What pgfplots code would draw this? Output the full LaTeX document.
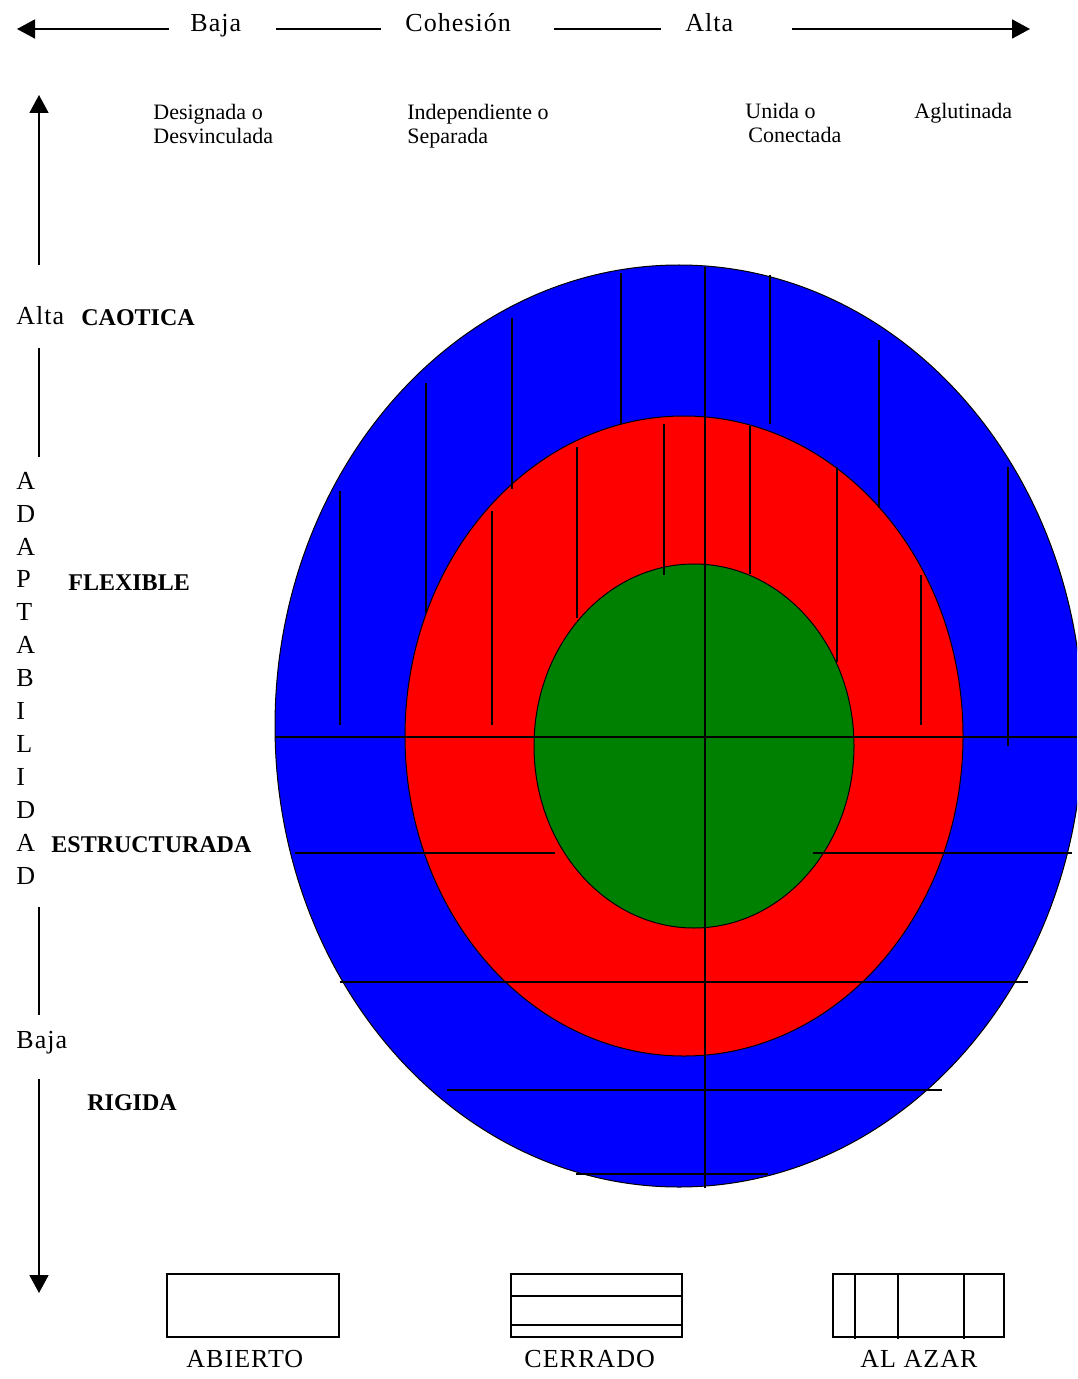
\documentclass[border=0pt]{standalone}
\usepackage{pgfplots}
\pgfplotsset{compat=1.18}
\usepackage{fontspec}
\setmainfont{Liberation Serif}
\newfontfamily\spaced[LetterSpace=4.0]{Liberation Serif}
\usetikzlibrary{arrows.meta}

\definecolor{cblue}{RGB}{0,0,255}
\definecolor{cred}{RGB}{255,0,0}
\definecolor{cgreen}{RGB}{0,128,0}

\tikzset{
  ln/.style={black, line width=0.6pt},
  arr/.style={black, line width=0.9pt, -{Triangle[length=9pt,width=9.5pt]}},
  bx/.style={black, line width=0.9pt},
  lbl/.style={anchor=base west, inner sep=0pt, font=\spaced\fontsize{13}{15}\selectfont},
  sm/.style={anchor=base west, inner sep=0pt, font=\fontsize{11}{13}\selectfont},
  bd/.style={anchor=base west, inner sep=0pt, font=\bfseries\fontsize{12}{14}\selectfont},
}

\begin{document}
\begin{tikzpicture}
\begin{axis}[
  scale only axis,
  width=538.5pt, height=689.5pt,
  xmin=0, xmax=1077, ymin=0, ymax=1379,
  y dir=reverse,
  hide axis,
]
\path (rel axis cs:0,0) rectangle (rel axis cs:1,1);

% rings (outer one runs past the right edge and is clipped there)
\pgfinterruptboundingbox
\draw[fill=cblue, draw=black, line width=0.5pt] (axis cs:679,726) ellipse [x radius=404, y radius=461];
\endpgfinterruptboundingbox
\draw[fill=cred, draw=black, line width=0.5pt] (axis cs:684,736) ellipse [x radius=279, y radius=320];
\draw[fill=cgreen, draw=black, line width=0.5pt] (axis cs:694,746) ellipse [x radius=160, y radius=182];

% grid lines inside the rings
\addplot[ln, no marks] coordinates {(705,267) (705,1188)};
\addplot[ln, no marks] coordinates {(275,737) (1077,737)};
\addplot[ln, no marks] coordinates {(340,491) (340,725)};
\addplot[ln, no marks] coordinates {(426,383) (426,613)};
\addplot[ln, no marks] coordinates {(512,318) (512,489)};
\addplot[ln, no marks] coordinates {(621,273) (621,424)};
\addplot[ln, no marks] coordinates {(770,275) (770,424)};
\addplot[ln, no marks] coordinates {(879,340) (879,508)};
\addplot[ln, no marks] coordinates {(1008,467) (1008,746)};
\addplot[ln, no marks] coordinates {(492,511) (492,725)};
\addplot[ln, no marks] coordinates {(577,447) (577,618)};
\addplot[ln, no marks] coordinates {(664,424) (664,575)};
\addplot[ln, no marks] coordinates {(750,426) (750,574)};
\addplot[ln, no marks] coordinates {(837,467) (837,662)};
\addplot[ln, no marks] coordinates {(921,575) (921,725)};
\addplot[ln, no marks] coordinates {(295,853) (555,853)};
\addplot[ln, no marks] coordinates {(813,853) (1072,853)};
\addplot[ln, no marks] coordinates {(340,982) (1028,982)};
\addplot[ln, no marks] coordinates {(447,1090) (942,1090)};
\addplot[ln, no marks] coordinates {(576,1174) (768,1174)};

% top axis: cohesion
\draw[arr] (axis cs:169,29) -- (axis cs:17,29);
\draw[bx] (axis cs:276,29) -- (axis cs:381,29);
\draw[bx] (axis cs:554,29) -- (axis cs:661,29);
\draw[arr] (axis cs:792,29) -- (axis cs:1030,29);
\node[lbl] at (axis cs:190,32) {Baja};
\node[lbl] at (axis cs:405,32) {Cohesión};
\node[lbl] at (axis cs:685,32) {Alta};

\node[sm] at (axis cs:153,120) {Designada o};
\node[sm] at (axis cs:153,144) {Desvinculada};
\node[sm] at (axis cs:407,120) {Independiente o};
\node[sm] at (axis cs:407,144) {Separada};
\node[sm] at (axis cs:745,119) {Unida o};
\node[sm] at (axis cs:748,143) {Conectada};
\node[sm] at (axis cs:914,119) {Aglutinada};

% left axis: adaptabilidad
\draw[arr] (axis cs:39,265) -- (axis cs:39,95);
\draw[bx] (axis cs:39,348) -- (axis cs:39,457);
\draw[bx] (axis cs:39,907) -- (axis cs:39,1015);
\draw[arr] (axis cs:39,1079) -- (axis cs:39,1293);
\node[lbl] at (axis cs:16,325) {Alta};
\node[lbl] at (axis cs:16,1048) {Baja};
\node[lbl] at (axis cs:16,489) {A};
\node[lbl] at (axis cs:16,522) {D};
\node[lbl] at (axis cs:16,555) {A};
\node[lbl] at (axis cs:16,587) {P};
\node[lbl] at (axis cs:16,620) {T};
\node[lbl] at (axis cs:16,653) {A};
\node[lbl] at (axis cs:16,686) {B};
\node[lbl] at (axis cs:16,719) {I};
\node[lbl] at (axis cs:16,752) {L};
\node[lbl] at (axis cs:16,785) {I};
\node[lbl] at (axis cs:16,818) {D};
\node[lbl] at (axis cs:16,851) {A};
\node[lbl] at (axis cs:16,884) {D};

\node[bd] at (axis cs:81,326) {CAOTICA};
\node[bd] at (axis cs:68,590) {FLEXIBLE};
\node[bd] at (axis cs:51,852) {ESTRUCTURADA};
\node[bd] at (axis cs:87,1110) {RIGIDA};

% key boxes
\draw[bx] (axis cs:167,1274) rectangle (axis cs:339,1337);
\draw[bx] (axis cs:511,1274) rectangle (axis cs:682,1337);
\draw[bx] (axis cs:511,1296) -- (axis cs:682,1296);
\draw[bx] (axis cs:511,1325) -- (axis cs:682,1325);
\draw[bx] (axis cs:833,1274) rectangle (axis cs:1004,1337);
\draw[bx] (axis cs:855,1274) -- (axis cs:855,1339);
\draw[bx] (axis cs:898,1274) -- (axis cs:898,1339);
\draw[bx] (axis cs:964,1274) -- (axis cs:964,1339);
\node[lbl] at (axis cs:186,1367) {ABIERTO};
\node[lbl] at (axis cs:524,1367) {CERRADO};
\node[lbl] at (axis cs:860,1367) {AL AZAR};
\end{axis}
\end{tikzpicture}
\end{document}
